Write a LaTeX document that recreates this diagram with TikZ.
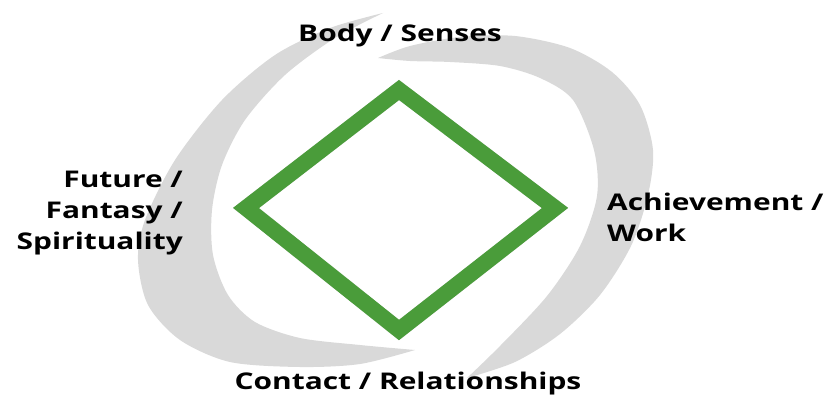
\documentclass[tikz,border=0pt]{standalone}
\usepackage{fontspec}
\newfontfamily\labelfont{Open Sans}[FakeStretch=1.3]
\definecolor{swooshgray}{HTML}{D9D9D9}
\definecolor{diamondgreen}{HTML}{4A9C3A}
\begin{document}
\begin{tikzpicture}[x=1pt,y=-1pt,
    swoosh/.style={fill=swooshgray},
    diamondline/.style={draw=diamondgreen,line width=16pt,line join=miter},
    lbl/.style={font=\labelfont\bfseries\fontsize{23}{31}\selectfont,inner sep=0pt}]
    \useasboundingbox (0,0) rectangle (826,396);

    % gray swirl behind the diamond
    \fill [swoosh] plot [smooth] coordinates {(383,13) (330,28) (275,55) (222,100) (175,160) (145,220) (138,260) (148,305) (180,340) (230,362) (300,367) (360,364) (415,350)}
        -- plot [smooth] coordinates {(415,350) (360,345) (300,338) (255,322) (228,295) (213,255) (212,210) (222,165) (245,120) (285,75) (335,38) (383,13)} -- cycle;
    \fill [swoosh] plot [smooth] coordinates {(378,58) (410,46) (460,37) (515,36) (570,48) (612,72) (640,105) (653,150) (648,195) (631,246) (600,295) (560,334) (515,362) (467,378)}
        -- plot [smooth] coordinates {(467,378) (500,346) (547,296) (580,246) (597,196) (594,150) (573,100) (540,78) (500,66) (450,62) (410,61) (378,58)} -- cycle;

    \coordinate (body) at (399,90);
    \coordinate (achv) at (555,208);
    \coordinate (contact) at (399,330);
    \coordinate (future) at (246,208);

    % diamond with a soft shadow
    \draw [diamondline, draw=black, opacity=0.18, shift={(3,3)}] (body) -- (achv) -- (contact) -- (future) -- cycle;
    \draw [diamondline] (body) -- (achv) -- (contact) -- (future) -- cycle;

    \node [lbl] (bodylbl) at (400,36) {Body / Senses};
    \node [lbl, anchor=west, align=left] (achvlbl) at (607,217) {Achievement /\\Work};
    \node [lbl] (contactlbl) at (408,384) {Contact / Relationships};
    \node [lbl, anchor=east, align=right] (futurelbl) at (183,213) {Future /\\Fantasy /\\Spirituality};
\end{tikzpicture}
\end{document}
